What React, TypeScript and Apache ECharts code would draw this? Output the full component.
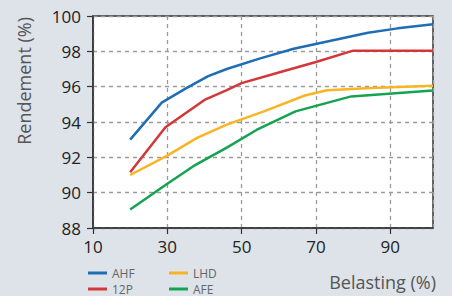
import React, { useEffect, useRef } from "react";
import * as echarts from "echarts";

const seriesNames = ["AHF", "12P", "LHD", "AFE"];
const seriesColors = ["#1f6db4", "#d2383a", "#f8b422", "#15a352"];

const ahf: [number, number][] = [
  [20, 93.0], [28.5, 95.1], [35, 95.9], [41, 96.6], [46, 97.0], [55, 97.6],
  [64, 98.15], [74, 98.6], [84, 99.05], [92, 99.3], [101.5, 99.53],
];
const p12: [number, number][] = [
  [20, 91.15], [29.5, 93.7], [40, 95.25], [46, 95.8], [50, 96.2], [60, 96.8],
  [70, 97.4], [80, 98.04], [101.5, 98.04],
];
const lhd: [number, number][] = [
  [20, 91.0], [30, 92.1], [38, 93.1], [46, 93.85], [56, 94.6], [67, 95.5],
  [73, 95.8], [85, 95.92], [101.5, 96.05],
];
const afe: [number, number][] = [
  [20, 89.05], [30, 90.5], [37, 91.5], [46, 92.55], [54, 93.55], [64.5, 94.6],
  [79.5, 95.45], [101.5, 95.78],
];
const allData = [ahf, p12, lhd, afe];

const xMin = 10;
const xMax = 101.5;
const xInterval = 20;
const yMin = 88;
const yMax = 100;
const yInterval = 2;

const xName = "Belasting (%)";
const yName = "Rendement (%)";

export default function App() {
  const ref = useRef<HTMLDivElement>(null);
  useEffect(() => {
    document.body.style.margin = "0";
    const chart = echarts.init(ref.current!, null, { renderer: "svg" });
    const font = "'Open Sans', 'Noto Sans', sans-serif";
    const gridLine = { show: true, lineStyle: { color: "#9a9a9a", type: [4, 4] as any, width: 1.3 } };
    const legendBase = {
      orient: "vertical", top: 266, height: 40, padding: 0,
      itemWidth: 19, itemHeight: 3, itemGap: 2, icon: "rect",
      textStyle: { fontSize: 12, color: "#666", lineHeight: 14, fontFamily: font },
    };
    chart.setOption({
      animation: false,
      backgroundColor: "#dde3e9",
      textStyle: { fontFamily: font },
      grid: {
        left: 93, right: 19, top: 16, bottom: 68,
        show: true, backgroundColor: "#ffffff", borderColor: "#333", borderWidth: 1.5,
      },
      legend: [
        { ...legendBase, data: seriesNames.slice(0, 2), left: 88 },
        { ...legendBase, data: seriesNames.slice(2, 4), left: 169 },
      ],
      xAxis: {
        type: "value", min: xMin, max: xMax, interval: xInterval,
        name: xName, nameLocation: "end", nameGap: 3,
        nameTextStyle: {
          fontSize: 18, color: "#555", align: "right", verticalAlign: "top",
          padding: [45, 0, 0, 0], fontFamily: font,
        },
        axisLine: { show: true, lineStyle: { color: "#333", width: 1.5 } },
        axisTick: { show: true, length: 6, lineStyle: { color: "#333", width: 1.2 } },
        axisLabel: { fontSize: 17, color: "#222", margin: 10, showMaxLabel: false, fontFamily: font },
        splitLine: gridLine,
      },
      yAxis: {
        type: "value", min: yMin, max: yMax, interval: yInterval,
        name: yName, nameLocation: "end", nameRotate: 90, nameGap: -1,
        nameTextStyle: {
          fontSize: 18, color: "#555", align: "right", verticalAlign: "bottom",
          padding: [0, 0, 60, 0], fontFamily: font,
        },
        axisLine: { show: true, lineStyle: { color: "#333", width: 1.5 } },
        axisTick: { show: true, length: 6, lineStyle: { color: "#333", width: 1.2 } },
        axisLabel: { fontSize: 17, color: "#222", margin: 12, fontFamily: font },
        splitLine: gridLine,
      },
      series: seriesNames.map((name, i) => ({
        name, type: "line", data: allData[i], showSymbol: false, symbol: "none",
        lineStyle: { color: seriesColors[i], width: 2.5 },
        itemStyle: { color: seriesColors[i] },
        z: 10 - i,
      })),
    });
    return () => chart.dispose();
  }, []);
  return (
    <div
      ref={ref}
      style={{ position: "fixed", left: 0, top: 0, width: 452, height: 296 }}
    />
  );
}
